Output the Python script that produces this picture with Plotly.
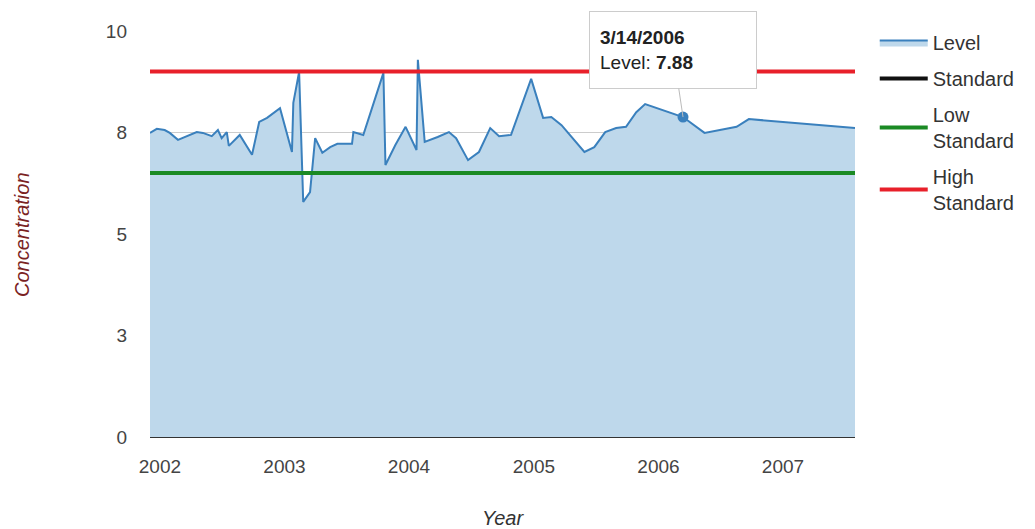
import plotly.graph_objects as go

# Sample dates and measured concentration levels
dates = [
    "2001-12-03", "2001-12-23", "2002-01-15", "2002-01-30", "2002-02-23", "2002-03-21",
    "2002-04-19", "2002-05-07", "2002-06-02", "2002-06-20", "2002-07-01", "2002-07-16",
    "2002-07-22", "2002-08-23", "2002-09-28", "2002-10-19", "2002-11-11", "2002-12-19",
    "2003-01-23", "2003-01-27", "2003-02-13", "2003-02-25", "2003-03-17", "2003-04-01",
    "2003-04-22", "2003-05-15", "2003-06-05", "2003-07-18", "2003-07-22", "2003-08-20",
    "2003-09-16", "2003-10-18", "2003-10-24", "2003-11-22", "2003-12-22", "2004-01-23",
    "2004-01-27", "2004-02-16", "2004-03-25", "2004-04-27", "2004-05-18", "2004-06-22",
    "2004-07-24", "2004-08-26", "2004-09-21", "2004-10-26", "2004-12-24", "2005-01-28",
    "2005-02-21", "2005-03-23", "2005-05-29", "2005-06-27", "2005-07-29", "2005-08-30",
    "2005-09-28", "2005-10-28", "2005-11-23", "2006-03-14", "2006-05-16", "2006-08-18",
    "2006-09-23", "2007-07-31",
]
levels = [
    7.49, 7.59, 7.56, 7.49, 7.32, 7.41,
    7.51, 7.49, 7.41, 7.56, 7.36, 7.51,
    7.17, 7.44, 6.95, 7.76, 7.86, 8.10,
    7.02, 8.23, 8.99, 5.79, 6.03, 7.36,
    7.00, 7.14, 7.22, 7.22, 7.51, 7.44,
    8.13, 8.97, 6.70, 7.19, 7.64, 7.07,
    9.29, 7.27, 7.39, 7.51, 7.36, 6.82,
    7.02, 7.61, 7.41, 7.44, 8.82, 7.86,
    7.88, 7.68, 7.02, 7.14, 7.51, 7.61,
    7.64, 8.00, 8.20, 7.88, 7.49, 7.64,
    7.83, 7.61,
]

# Reference thresholds
standard_value = None
low_standard = 6.5
high_standard = 9.0

# Highlighted sample
focus_date = "2006-03-14"
focus_label = "3/14/2006"
focus_level = 7.88

y_tick_values = [0, 2.5, 5, 7.5, 10]
y_tick_labels = ["0", "3", "5", "8", "10"]

span = [dates[0], dates[-1]]
FONT = "Arial, Liberation Sans, sans-serif"

fig = go.Figure()

fig.add_trace(go.Scatter(
    x=dates, y=levels, name="Level", mode="lines", legendgroup="level",
    line=dict(color="#3a80bd", width=2),
    fill="tozeroy", fillcolor="rgba(190,216,235,1)",
    hoverinfo="skip",
))
fig.add_trace(go.Scatter(
    x=span, y=[standard_value, standard_value], name="Standard", mode="lines",
    legendgroup="standard",
    line=dict(color="#111111", width=4),
))
fig.add_trace(go.Scatter(
    x=span, y=[low_standard, low_standard], name="Low<br>Standard", mode="lines",
    legendgroup="low",
    line=dict(color="#1b8a24", width=4),
))
fig.add_trace(go.Scatter(
    x=span, y=[high_standard, high_standard], name="High<br>Standard", mode="lines",
    legendgroup="high",
    line=dict(color="#e8202a", width=4),
))
fig.add_trace(go.Scatter(
    x=[focus_date], y=[focus_level], mode="markers", showlegend=False,
    marker=dict(color="#3a80bd", size=11),
))

fig.add_annotation(
    x=focus_date, y=focus_level, xref="x", yref="y",
    text=f"<b>{focus_label}</b><br>Level: <b>{focus_level:.2f}</b>",
    showarrow=True, arrowhead=0, arrowwidth=1, arrowcolor="#bbbbbb",
    ax=-10, ay=-67,
    align="left", width=146, height=56,
    bgcolor="white", bordercolor="#cccccc", borderwidth=1, borderpad=10,
    font=dict(family=FONT, size=19, color="#222222"),
)

# Axis titles
fig.add_annotation(
    x=-0.1816, y=0.5, xref="paper", yref="paper", showarrow=False,
    xanchor="center", yanchor="middle",
    text="<i>Concentration</i>", textangle=-90,
    font=dict(family=FONT, size=20, color="#7a2323"),
)
fig.add_annotation(
    x=0.5, y=-0.2, xref="paper", yref="paper", showarrow=False,
    text="<i>Year</i>", xanchor="center", yanchor="middle",
    font=dict(family=FONT, size=20, color="#333333"),
)

fig.update_layout(
    width=1035, height=529,
    margin=dict(l=150, r=180, t=31, b=92),
    paper_bgcolor="white", plot_bgcolor="white",
    font=dict(family=FONT, size=19, color="#444444"),
    showlegend=True,
    legend=dict(
        x=1.028, y=1.02, xanchor="left", yanchor="top",
        font=dict(family=FONT, size=20, color="#333333"),
        itemwidth=48, tracegroupgap=7, bgcolor="rgba(0,0,0,0)",
    ),
    xaxis=dict(
        type="date", range=span, showgrid=False, zeroline=False,
        tick0="2002-01-01", dtick="M12", tickformat="%Y",
        ticks="", ticklabelstandoff=16, showline=False,
        tickfont=dict(size=19, color="#444444"),
    ),
    yaxis=dict(
        range=[0, 10], tickvals=y_tick_values, ticktext=y_tick_labels,
        showgrid=True, gridcolor="#cccccc", gridwidth=1,
        zeroline=True, zerolinecolor="#333333", zerolinewidth=1,
        ticks="", ticklabelstandoff=22,
        tickfont=dict(size=19, color="#444444"),
    ),
)

fig.write_html("out.html")
